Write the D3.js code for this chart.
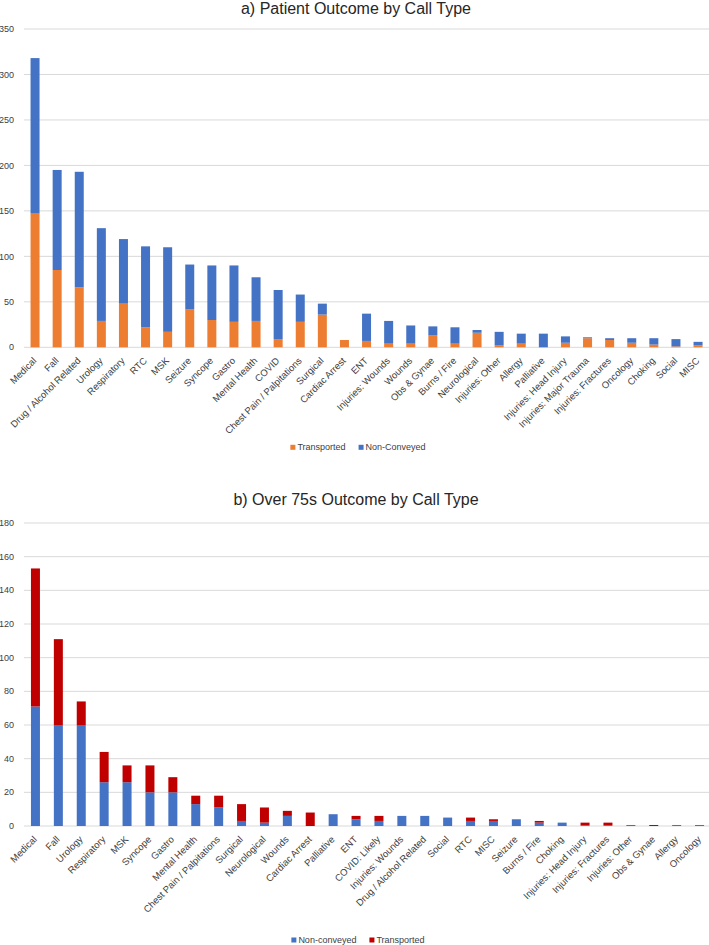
<!DOCTYPE html>
<html><head><meta charset="utf-8">
<script src="https://cdn.jsdelivr.net/npm/d3@7"></script>
<style>
body{margin:0;background:#fff;}
svg{display:block;font-family:"Liberation Sans",Arial,sans-serif;}
</style></head>
<body>
<svg id="c" width="709" height="945"></svg>
<script>
// ---- Chart a) data ----
const catsA = ["Medical","Fall","Drug / Alcohol Related","Urology","Respiratory","RTC","MSK","Seizure","Syncope","Gastro","Mental Health","COVID","Chest Pain / Palpitations","Surgical","Cardiac Arrest","ENT","Injuries: Wounds","Wounds","Obs & Gynae","Burns / Fire","Neurological","Injuries: Other","Allergy","Palliative","Injuries: Head Injury","Injuries: Major Trauma","Injuries: Fractures","Oncology","Choking","Social","MISC"];
const transportedA = [147,85,66,29,48,22,17,42,30,28,29,9,28,36,8,7,4,4,13,4,16,2,4,0,5,10,8,5,3,1,2];
const nonConveyedA = [171,110,127,102,71,89,93,49,60,62,48,54,30,12,0,30,25,20,10,18,3,15,11,15,7,1,2,5,7,8,4];
const ticksA = [0,50,100,150,200,250,300,350];

// ---- Chart b) data ----
const catsB = ["Medical","Fall","Urology","Respiratory","MSK","Syncope","Gastro","Mental Health","Chest Pain / Palpitations","Surgical","Neurological","Wounds","Cardiac Arrest","Palliative","ENT","COVID: Likely","Injuries: Wounds","Drug / Alcohol Related","Social","RTC","MISC","Seizure","Burns / Fire","Choking","Injuries: Head Injury","Injuries: Fractures","Injuries: Other","Obs & Gynae","Allergy","Oncology"];
const nonConveyedB = [71,60,60,26,26,20,20,13,11,3,2,6,0,7,4,3,6,6,5,3,3,4,2,2,0.5,0.5,0.6,0,0.6,0.6];
const transportedB = [82,51,14,18,10,16,9,5,7,10,9,3,8,0,2,3,0,0,0,2,1,0,1,0,1.5,1.5,0,0.6,0,0];
const ticksB = [0,20,40,60,80,100,120,140,160,180];

const svg = d3.select("#c");

function drawChart(o){
  const g = svg.append("g");
  const x = d3.scaleBand().domain(o.cats).range([24, o.xEnd])
    .paddingInner(o.pad).paddingOuter(o.pad/2);
  const y = d3.scaleLinear().domain([0, o.ymax]).range([o.y0, o.yTop]);
  // gridlines
  g.selectAll("line.grid").data(o.ticks).join("line")
    .attr("x1",24).attr("x2",709).attr("y1",d=>y(d)).attr("y2",d=>y(d))
    .attr("stroke","#d9d9d9").attr("stroke-width",1);
  // y tick labels
  g.selectAll("text.yt").data(o.ticks).join("text")
    .attr("x",14).attr("y",d=>y(d)).attr("dy","0.35em")
    .attr("text-anchor","end").attr("font-size",9).attr("fill","#404040")
    .text(d=>d);
  // stacks
  const rows = o.cats.map((c,i)=>{const r={cat:c}; o.keys.forEach(k=>r[k]=o.series[k][i]); return r;});
  const stack = d3.stack().keys(o.keys)(rows);
  g.selectAll("g.s").data(stack).join("g")
    .attr("fill",d=>o.colors[d.key])
    .selectAll("rect").data(d=>d).join("rect")
    .attr("x",d=>x(d.data.cat)).attr("width",x.bandwidth())
    .attr("y",d=>y(d[1])).attr("height",d=>Math.max(0,y(d[0])-y(d[1])));
  // x labels
  g.selectAll("text.xl").data(o.cats).join("text")
    .attr("transform",d=>`translate(${x(d)+x.bandwidth()/2+2},${o.y0+14}) rotate(-45)`)
    .attr("text-anchor","end").attr("font-size",9.5).attr("fill","#404040")
    .text(d=>d);
  // title
  g.append("text").attr("x",356).attr("y",o.titleY).attr("text-anchor","middle")
    .attr("font-size",16).attr("fill","#262626").text(o.title);
  // legend
  const lg = g.append("g");
  let cx = 0;
  o.legend.forEach((k,i)=>{
    lg.append("rect").attr("x",cx).attr("y",-2.5).attr("width",5).attr("height",5).attr("fill",o.colors[k]);
    const t = lg.append("text").attr("x",cx+7).attr("y",0).attr("dy","0.35em")
      .attr("font-size",9).attr("fill","#404040").text(o.labels[k]);
    cx += 7 + t.node().getComputedTextLength() + 13;
  });
  const w = cx - 13;
  lg.attr("transform",`translate(${358 - w/2},${o.legendY})`);
}

drawChart({
  cats:catsA, keys:["t","n"], series:{t:transportedA, n:nonConveyedA},
  colors:{t:"#ED7D31", n:"#4472C4"}, labels:{t:"Transported", n:"Non-Conveyed"},
  legend:["t","n"], ticks:ticksA, ymax:350, y0:347.3, yTop:29, xEnd:709.1, pad:0.593,
  title:"a) Patient Outcome by Call Type", titleY:14, legendY:447.3
});
drawChart({
  cats:catsB, keys:["n","t"], series:{n:nonConveyedB, t:transportedB},
  colors:{n:"#4472C4", t:"#C00000"}, labels:{n:"Non-conveyed", t:"Transported"},
  legend:["n","t"], ticks:ticksB, ymax:180, y0:826, yTop:523, xEnd:711, pad:0.607,
  title:"b) Over 75s Outcome by Call Type", titleY:505, legendY:940
});
</script>
</body></html>
